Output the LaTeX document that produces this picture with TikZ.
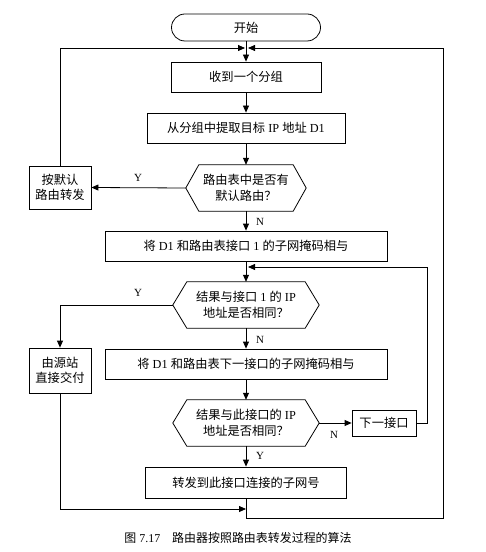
\documentclass[tikz,border=0pt]{standalone}
\usepackage{fontspec}
\setmainfont{Liberation Serif}
\newfontfamily\cjk{Noto Sans CJK SC}
\usetikzlibrary{arrows.meta}
\newcommand\zh[1]{{\cjk #1}}
\begin{document}
\begin{tikzpicture}[x=1bp,y=-1bp,
  every node/.style={font=\fontsize{12.3}{15.5}\selectfont},
  ln/.style={line width=0.8bp},
  box/.style={draw, ln, inner sep=0pt, align=center, minimum height=30bp},
  hexin/.style={inner sep=0pt, align=center, minimum height=46bp},
  arr/.style={ln, -{Triangle[length=7bp,width=6bp]}},
  lbl/.style={font=\fontsize{11}{13}\selectfont, inner sep=0pt}
]
\useasboundingbox (0,0) rectangle (486,552);

\node[draw, ln, rounded corners=13.5bp, minimum width=149bp, minimum height=27bp, inner sep=0pt] (start) at (246,27.5) {\zh{开始}};
\node[box, minimum width=150bp] (b1) at (246,77) {\zh{收到一个分组}};
\node[box, minimum width=198bp] (b2) at (246,128) {\zh{从分组中提取目标} IP \zh{地址} D1};
\node[hexin, minimum width=94bp] (h1) at (246,188) {\zh{路由表中是否有}\\\zh{默认路由？}};
\node[box, minimum width=62bp, minimum height=43bp] (def) at (60,187.5) {\zh{按默认}\\\zh{路由转发}};
\node[box, minimum width=282bp] (b3) at (246,246) {\zh{将} D1 \zh{和路由表接口} 1 \zh{的子网掩码相与}};
\node[hexin, minimum width=118bp] (h2) at (246,305) {\zh{结果与接口} 1 \zh{的} IP\\\zh{地址是否相同？}};
\node[box, minimum width=62bp, minimum height=45bp] (src) at (60,370.5) {\zh{由源站}\\\zh{直接交付}};
\node[box, minimum width=282bp] (b4) at (246,364) {\zh{将} D1 \zh{和路由表下一接口的子网掩码相与}};
\node[hexin, minimum width=118bp] (h3) at (246,423) {\zh{结果与此接口的} IP\\\zh{地址是否相同？}};
\node[box, minimum width=64bp, minimum height=26bp] (nx) at (384,423) {\zh{下一接口}};
\node[box, minimum width=201bp, minimum height=31bp] (b5) at (246,482.5) {\zh{转发到此接口连接的子网号}};

% hexagon outlines
\coordinate (h1l) at ([xshift=-13bp]h1.west);
\coordinate (h1r) at ([xshift=13bp]h1.east);
\coordinate (h2l) at ([xshift=-14bp]h2.west);
\coordinate (h2r) at ([xshift=14bp]h2.east);
\coordinate (h3l) at ([xshift=-14bp]h3.west);
\coordinate (h3r) at ([xshift=14bp]h3.east);
\draw[ln] (h1.north west) -- (h1.north east) -- (h1r) -- (h1.south east) -- (h1.south west) -- (h1l) -- cycle;
\draw[ln] (h2.north west) -- (h2.north east) -- (h2r) -- (h2.south east) -- (h2.south west) -- (h2l) -- cycle;
\draw[ln] (h3.north west) -- (h3.north east) -- (h3r) -- (h3.south east) -- (h3.south west) -- (h3l) -- cycle;

% junctions
\coordinate (jtop) at (246,48);
\coordinate (jtopl) at (245,48);
\coordinate (jtopr) at (248,48);
\coordinate (jloop) at (248,267);
\coordinate (jbot) at (246,509);
\coordinate (loopr) at (427,267);
\coordinate (botr) at (443,518);

% connectors
\draw[arr] (start) -- (b1);
\draw[arr] (b1) -- (b2);
\draw[arr] (b2) -- (h1);
\draw[arr] (h1l) -- (def.east);
\draw[arr] (def.north) |- (jtopl);
\draw[arr] (h1) -- (b3);
\draw[arr] (b3) -- (h2);
\draw[arr] (h2l) -| (src.north);
\draw[arr] (h2) -- (b4);
\draw[arr] (b4) -- (h3);
\draw[arr] (h3r) -- (nx.west);
\draw[arr] (nx.east) -| (loopr) -- (jloop);
\draw[arr] (h3) -- (b5);
\draw[arr] (src.south) |- (jbot);
\draw[arr] (b5.south) |- (botr) |- (jtopr);

% labels
\node[lbl] (y1) at (138,178) {Y};
\node[lbl] (n1) at (260,222) {N};
\node[lbl] (y2) at (138,293) {Y};
\node[lbl] (n2) at (260,340) {N};
\node[lbl] (n3) at (334,435) {N};
\node[lbl] (y3) at (260,456) {Y};

\node[font=\fontsize{12}{14}\selectfont] (cap) at (238,538) {\zh{图} 7.17\quad\zh{路由器按照路由表转发过程的算法}};
\end{tikzpicture}
\end{document}
